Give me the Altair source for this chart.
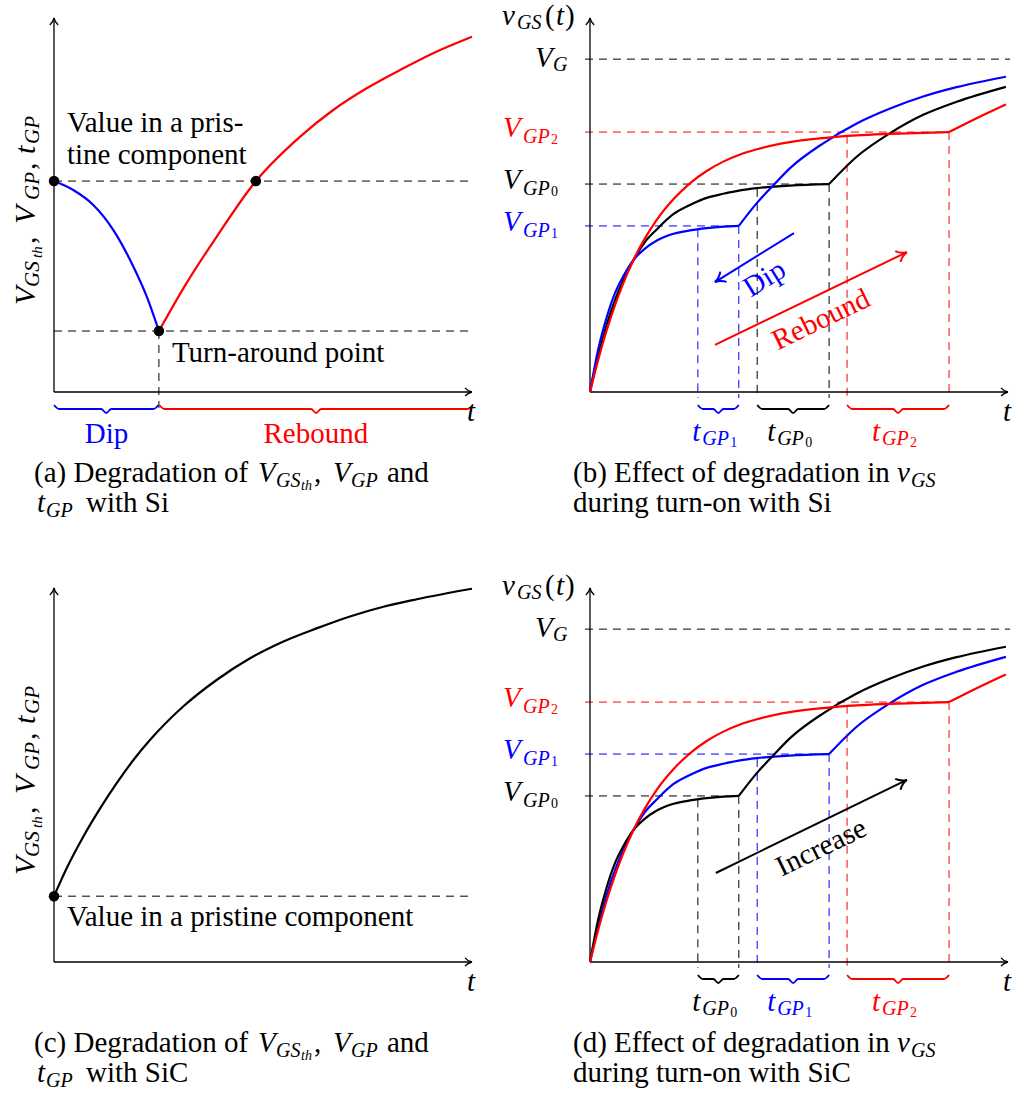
import math
import altair as alt
import pandas as pd

# ---------------------------------------------------------------------------
# Values, in axis units: 0 is the origin, 100 the tip of each axis arrow.
# ---------------------------------------------------------------------------

# (a) Si: V_GSth / V_GP / t_GP over ageing time
A_PRISTINE = 56.4
A_TURN_T, A_TURN_V = 25.1, 16.3
A_RECOVER_T = 48.3
A_DIP_T = [0.0, 4.6, 9.4, 14.2, 19.0, 22.2, 25.1]
A_DIP_V = [56.4, 54.0, 50.0, 43.3, 33.5, 25.5, 16.3]
A_REB_T = [25.1, 31.7, 38.9, 48.3, 58.9, 66.8, 74.8, 82.8, 90.7, 100.0]
A_REB_V = [16.3, 29.1, 41.5, 56.4, 68.3, 75.4, 81.2, 86.1, 90.6, 95.0]

# (c) SiC: monotonic increase from the pristine value
C_PRISTINE = 17.6
C_T = [0.0, 3.0, 7.0, 11.0, 15.0, 19.0, 23.0, 30.9, 38.9, 46.9, 54.9, 62.8, 70.8, 78.8,
       86.8, 100.0]
C_V = [17.6, 25.0, 33.5, 41.0, 47.8, 54.0, 59.4, 68.3, 75.4, 81.2, 85.7, 89.2, 92.4, 95.0,
       97.0, 99.8]

# (b)/(d) gate-source voltage during turn-on
V_G = 89.0
LEVEL_NAMES = ["low", "mid", "high"]
PLATEAU_V = [44.4, 55.6, 69.5]          # Miller plateau voltage
PLATEAU_START = [25.8, 40.0, 61.5]      # t where the plateau begins
PLATEAU_START_V = [43.5, 54.3, 68.5]    # v_GS at that instant
PLATEAU_END = [35.6, 57.2, 85.9]        # t where the plateau ends

LOW_RISE_T = [0.0, 2.0, 4.0, 6.0, 8.0, 10.4, 13.0, 16.0, 20.0, 23.9, 27.9, 31.9, 35.6]
LOW_RISE_V = [0.0, 11.6, 20.0, 26.5, 31.0, 35.3, 38.2, 40.5, 42.3, 43.2, 43.8, 44.2, 44.4]
LOW_TAIL_T = [35.6, 39.9, 43.9, 47.8, 55.8, 63.8, 71.8, 79.7, 87.7, 99.5]
LOW_TAIL_V = [44.4, 50.5, 55.3, 59.8, 66.5, 71.8, 75.8, 79.0, 81.5, 84.3]

MID_RISE_T = [0.0, 2.0, 4.0, 6.0, 8.0, 10.4, 13.0, 16.0, 20.0, 23.9, 27.9, 31.9, 35.9,
              39.9, 47.8, 57.2]
MID_RISE_V = [0.0, 9.8, 18.0, 24.6, 30.0, 35.3, 39.9, 43.5, 47.6, 50.0, 51.9, 53.0, 53.9,
              54.5, 55.2, 55.6]
MID_TAIL_T = [57.2, 63.8, 71.8, 79.7, 87.7, 99.5]
MID_TAIL_V = [55.6, 62.9, 69.2, 74.1, 77.6, 81.6]

HIGH_RISE_T = [0.0, 2.0, 4.0, 6.0, 8.0, 10.4, 13.0, 16.0, 20.0, 23.9, 27.9, 31.9, 35.9,
               39.9, 47.8, 55.8, 63.8, 71.8, 85.9]
HIGH_RISE_V = [0.0, 8.8, 16.5, 23.3, 29.2, 35.3, 40.8, 46.1, 51.6, 55.8, 59.1, 61.6, 63.5,
               64.9, 66.8, 67.9, 68.6, 69.0, 69.5]
HIGH_TAIL_T = [85.9, 92.5, 99.5]
HIGH_TAIL_V = [69.5, 73.2, 76.9]

# arrows inside the v_GS panels: (t0, v0, t1, v1), head at (t1, v1)
DIP_ARROW = (48.8, 42.5, 29.9, 29.4)
REBOUND_ARROW = (29.9, 12.6, 75.8, 37.4)
INCREASE_ARROW = (30.1, 23.8, 75.8, 48.7)

CURVES = {
    "low": (LOW_RISE_T, LOW_RISE_V, LOW_TAIL_T, LOW_TAIL_V),
    "mid": (MID_RISE_T, MID_RISE_V, MID_TAIL_T, MID_TAIL_V),
    "high": (HIGH_RISE_T, HIGH_RISE_V, HIGH_TAIL_T, HIGH_TAIL_V),
}

# ---------------------------------------------------------------------------
# Drawing helpers
# ---------------------------------------------------------------------------
UX = 4.18   # pixels per axis unit along t
UY = 3.74   # pixels per axis unit vertically
FONT = "'Liberation Serif', 'DejaVu Serif', serif"
BLUE, RED, BLACK = "#0000ff", "#ff0000", "#000000"
DASH = [8, 6]
HEAD = "M-1,-0.6C-0.7,-0.25,-0.25,-0.05,0,0C-0.25,0.05,-0.7,0.25,-1,0.6"

STYLE = {
    "rm": (29, "normal"), "it": (29, "italic"),
    "sub": (20, "italic"), "num": (14, "normal"), "ssub": (14, "italic"),
    "Yrm": (30, "normal"), "Yit": (30, "italic"),
    "Ysub": (21, "italic"), "Yssub": (15, "italic"),
}


class Panel:
    def __init__(self, w, h, ox, oy):
        self.w, self.h = w, h
        self.xs = alt.Scale(domain=[-ox / UX, (w - ox) / UX], nice=False, zero=False)
        self.ys = alt.Scale(domain=[-(h - oy) / UY, oy / UY], nice=False, zero=False)
        self.rules, self.lines, self.heads, self.dots, self.texts = [], [], [], [], []
        self.nseg = 0

    def seg(self, x, y, x2, y2, color=BLACK, width=1.0, dashed=False):
        self.rules.append(dict(x=x, y=y, x2=x2, y2=y2, color=color, w=width, dashed=dashed))

    def curve(self, ts, vs, color, width=2.2):
        self.nseg += 1
        for t, v in zip(ts, vs):
            self.lines.append(dict(x=t, y=v, seg=self.nseg, color=color, w=width))

    def arrow(self, x0, y0, x1, y1, color, width, scale):
        self.seg(x0, y0, x1, y1, color, width)
        ang = math.degrees(math.atan2(-(y1 - y0) * UY, (x1 - x0) * UX)) % 360
        self.heads.append(dict(x=x1, y=y1, angle=ang, color=color, w=width, size=(2 * scale) ** 2))

    def axes(self):
        self.arrow(0, 0, 100, 0, BLACK, 1.3, 7)
        self.arrow(0, 0, 0, 100, BLACK, 1.3, 7)

    def dot(self, x, y):
        self.dots.append(dict(x=x, y=y))

    def brace(self, x0, x1, color):
        e, m, tip = -13 / UY, -17 / UY, -21 / UY
        d = 5 / UX
        xm = (x0 + x1) / 2
        self.curve([x0, x0 + d, xm - d, xm, xm + d, x1 - d, x1],
                   [e, m, m, tip, m, m, e], color, 1.8)

    def label(self, x, y, pieces, color=BLACK, angle=0, align="left", baseline="alphabetic"):
        for text, style, dx, dy in pieces:
            size, fs = STYLE[style]
            self.texts.append(dict(x=x + dx / UX, y=y - dy / UY, text=text, size=size,
                                   fs=fs, color=color, angle=angle % 360,
                                   align=align, baseline=baseline))

    def build(self):
        X = alt.X("x:Q", scale=self.xs, axis=None)
        Y = alt.Y("y:Q", scale=self.ys, axis=None)
        col = alt.Color("color:N", scale=None)
        sw = alt.StrokeWidth("w:Q", scale=None)
        layers = []
        rules = pd.DataFrame(self.rules)
        for dashed in (True, False):
            sub = rules[rules["dashed"] == dashed].drop(columns="dashed")
            if sub.empty:
                continue
            mk = alt.Chart(sub).mark_rule(strokeDash=DASH) if dashed else alt.Chart(sub).mark_rule()
            layers.append(mk.encode(x=X, y=Y, x2="x2:Q", y2="y2:Q", color=col, strokeWidth=sw))
        layers.append(alt.Chart(pd.DataFrame(self.lines)).mark_line(interpolate="monotone")
                      .encode(x=X, y=Y, detail="seg:N", color=col, strokeWidth=sw))
        layers.append(alt.Chart(pd.DataFrame(self.heads))
                      .mark_point(shape=HEAD, filled=False, opacity=1)
                      .encode(x=X, y=Y, color=col, strokeWidth=sw,
                              angle=alt.Angle("angle:Q", scale=None),
                              size=alt.Size("size:Q", scale=None)))
        if self.dots:
            layers.append(alt.Chart(pd.DataFrame(self.dots))
                          .mark_circle(size=110, opacity=1, color=BLACK)
                          .encode(x=X, y=Y))
        texts = pd.DataFrame(self.texts)
        for (fs, align, base), sub in texts.groupby(["fs", "align", "baseline"]):
            layers.append(alt.Chart(sub.drop(columns=["fs", "align", "baseline"]))
                          .mark_text(font=FONT, fontStyle=fs, align=align, baseline=base, clip=True)
                          .encode(x=X, y=Y, text="text:N", color=col,
                                  size=alt.Size("size:Q", scale=None),
                                  angle=alt.Angle("angle:Q", scale=None)))
        return alt.layer(*layers).properties(width=self.w, height=self.h)


# vertical axis title of the degradation panels, written bottom to top
Y_TITLE = [("V", "Yit", -19, -87), ("GS", "Ysub", -15, -105), ("th", "Yssub", -12, -134),
           (",", "Yrm", -19, -148), ("V", "Yit", -19, -168), ("GP", "Ysub", -15, -192),
           (",", "Yrm", -19, -222), ("t", "Yit", -19, -238), ("GP", "Ysub", -15, -248)]


def degradation_caption(p, tag, material):
    p.label(0, 0, [(f"({tag}) Degradation of", "rm", -20, 90), ("V", "it", 204, 90),
                   ("GS", "sub", 222, 95), ("th", "ssub", 247, 98), (",", "rm", 260, 90),
                   ("V", "it", 279, 90), ("GP", "sub", 297, 95), ("and", "rm", 333, 90)])
    p.label(0, 0, [("t", "it", -17, 120), ("GP", "sub", -8, 125),
                   (f"with {material}", "rm", 32, 120)])


def vgs_panel(h, colors, digits, tag, material):
    p = Panel(522, h, 100, 392)
    p.axes()
    p.seg(-1.2, V_G, 100.5, V_G, dashed=True)
    p.label(0, V_G, [("V", "it", -55, 8), ("G", "sub", -37, 12)])
    p.label(0, 0, [("v", "it", -88, -367), ("GS", "sub", -73, -363), ("(", "rm", -45, -367),
                   ("t", "it", -34, -367), (")", "rm", -25, -367)])
    p.label(100, 0, [("t", "it", -5, 29)])
    for i, name in enumerate(LEVEL_NAMES):
        c, dg = colors[name], digits[name]
        lv, t0, v0, t1 = PLATEAU_V[i], PLATEAU_START[i], PLATEAU_START_V[i], PLATEAU_END[i]
        p.seg(-1.2, lv, t1, lv, c, 1.0, True)
        p.seg(t0, v0, t0, -1.6, c, 1.0, True)
        p.seg(t1, lv, t1, -1.6, c, 1.0, True)
        p.label(0, lv, [("V", "it", -87, 5), ("GP", "sub", -67, 11), (dg, "num", -39, 12)], c)
        p.brace(t0, t1, c)
        p.label((t0 + t1) / 2, 0, [("t", "it", -26, 49), ("GP", "sub", -16, 53),
                                   (dg, "num", 12, 55)], c)
    for name in ["mid", "low", "high"]:
        rt, rv, tt, tv = CURVES[name]
        p.curve(rt, rv, colors[name])
        p.curve(tt, tv, colors[name])
    p.label(0, 0, [(f"({tag}) Effect of degradation in", "rm", -17, 90), ("v", "it", 307, 90),
                   ("GS", "sub", 321, 95)])
    p.label(0, 0, [(f"during turn-on with {material}", "rm", -17, 120)])
    return p


def annotated_arrow(p, arrow, color, text):
    x0, y0, x1, y1 = arrow
    p.arrow(x0, y0, x1, y1, color, 2.0, 10)
    dx, dy = abs(x1 - x0) * UX, abs(y1 - y0) * UY
    ang = -math.degrees(math.atan2(dy, dx))
    p.label((x0 + x1) / 2, (y0 + y1) / 2, [(text, "rm", 10, 21)], color,
            angle=ang, align="center", baseline="middle")


# (a) ------------------------------------------------------------------------
pa = Panel(490, 570, 54, 392)
pa.axes()
pa.seg(0, A_PRISTINE, 100.2, A_PRISTINE, dashed=True)
pa.seg(0, A_TURN_V, 100.2, A_TURN_V, dashed=True)
pa.seg(A_TURN_T, A_TURN_V, A_TURN_T, -4.3, dashed=True)
pa.curve(A_DIP_T, A_DIP_V, BLUE)
pa.curve(A_REB_T, A_REB_V, RED)
pa.dot(0, A_PRISTINE)
pa.dot(A_TURN_T, A_TURN_V)
pa.dot(A_RECOVER_T, A_PRISTINE)
pa.brace(0, A_TURN_T - 0.1, BLUE)
pa.brace(A_TURN_T + 0.1, 100.2, RED)
pa.label(A_TURN_T / 2, 0, [("Dip", "rm", 0, 51)], BLUE, align="center")
pa.label((A_TURN_T + 100.2) / 2, 0, [("Rebound", "rm", 0, 51)], RED, align="center")
pa.label(0, A_PRISTINE, [("Value in a pris-", "rm", 13, -49), ("tine component", "rm", 13, -17)])
pa.label(A_TURN_T, A_TURN_V, [("Turn-around point", "rm", 13, 31)])
pa.label(100, 0, [("t", "it", -5, 29)])
pa.label(0, 0, Y_TITLE, angle=270)
degradation_caption(pa, "a", "Si")

# (b) ------------------------------------------------------------------------
pb = vgs_panel(570, {"low": BLUE, "mid": BLACK, "high": RED},
               {"low": "1", "mid": "0", "high": "2"}, "b", "Si")
annotated_arrow(pb, DIP_ARROW, BLUE, "Dip")
annotated_arrow(pb, REBOUND_ARROW, RED, "Rebound")

# (c) ------------------------------------------------------------------------
pc = Panel(490, 525, 54, 392)
pc.axes()
pc.seg(0, C_PRISTINE, 100.2, C_PRISTINE, dashed=True)
pc.curve(C_T, C_V, BLACK)
pc.dot(0, C_PRISTINE)
pc.label(0, C_PRISTINE, [("Value in a pristine component", "rm", 13, 30)])
pc.label(100, 0, [("t", "it", -5, 29)])
pc.label(0, 0, Y_TITLE, angle=270)
degradation_caption(pc, "c", "SiC")

# (d) ------------------------------------------------------------------------
pd_ = vgs_panel(525, {"low": BLACK, "mid": BLUE, "high": RED},
                {"low": "0", "mid": "1", "high": "2"}, "d", "SiC")
annotated_arrow(pd_, INCREASE_ARROW, BLACK, "Increase")

chart = (alt.concat(pa.build(), pb.build(), pc.build(), pd_.build(),
                    columns=2, spacing=0, bounds="flush", align="each", padding=0)
         .configure_view(stroke=None))

chart.save("out.html", embed_options={"renderer": "svg", "actions": False})
